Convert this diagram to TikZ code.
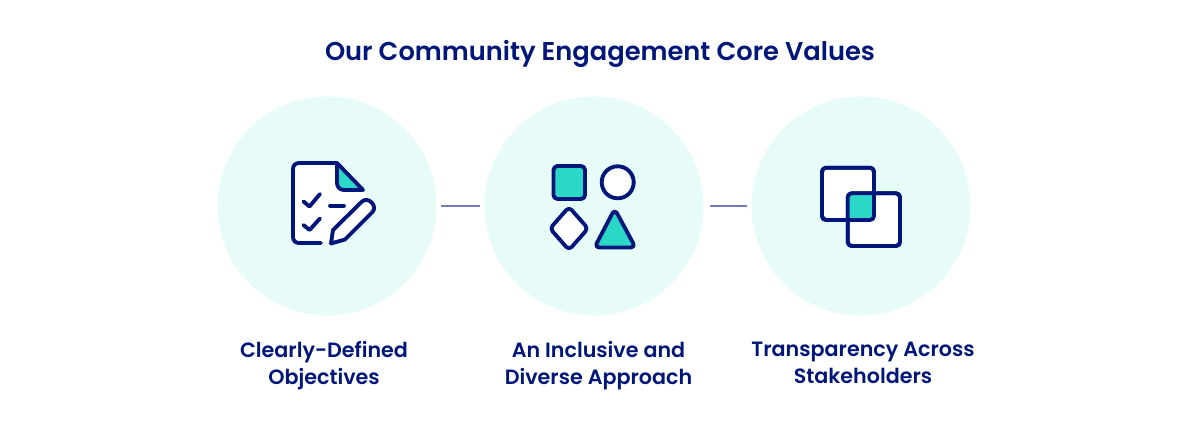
\documentclass[tikz,border=0pt]{standalone}
\usepackage{fontspec}
\setmainfont{Poppins}[BoldFont={Poppins SemiBold}]
\definecolor{navy}{HTML}{01167A}
\definecolor{teal}{HTML}{2BD8C8}
\definecolor{pale}{HTML}{E7FBF8}
\definecolor{linkc}{HTML}{6F80B8}
\tikzset{
  x=0.75pt,y=-0.75pt,
  disc/.style={circle,fill=pale,draw=none,minimum size=164.25pt,inner sep=0pt},
  link/.style={draw=linkc,line width=0.8pt,shorten <=3.4pt,shorten >=3.4pt},
  ink/.style={draw=navy,line width=2.9pt,line cap=round,line join=round},
  titletext/.style={text=navy,font=\bfseries\fontsize{19.3pt}{24pt}\selectfont,inner sep=0pt},
  labeltext/.style={text=navy,font=\bfseries\fontsize{15.5pt}{20.25pt}\selectfont,align=center,inner sep=0pt},
}
\begin{document}
\begin{tikzpicture}
\useasboundingbox (0,0) rectangle (1200,421);
\fill[white] (0,0) rectangle (1200,421);
\node[titletext] (title) at (600,53.5) {Our Community Engagement Core Values};
\node[disc] (c1) at (327,206) {};
\node[disc] (c2) at (594,206) {};
\node[disc] (c3) at (861,206) {};
\draw[link] (c1.east) -- (c2.west);
\draw[link,shorten <=5pt] (c2.east) -- (c3.west);
\node[labeltext] (l1) at (324,365.5) {Clearly-Defined\\Objectives};
\node[labeltext] (l2) at (598.5,365.5) {An Inclusive and\\Diverse Approach};
\node[labeltext] (l3) at (863,362.5) {Transparency Across\\Stakeholders};
% document icon
\fill[white] (299,163) -- (337,163) -- (363,190) -- (368,199) -- (332,243) -- (299,243) [rounded corners=5pt] -- (293,243) -- (293,163) -- cycle;
\fill[teal] (337,163) -- (363,190) -- (342,190) -- (337,185) -- cycle;
\draw[ink] (321,243) -- (299,243) .. controls (295.5,243) and (293,240.5) .. (293,237) -- (293,169) .. controls (293,165.5) and (295.5,163) .. (299,163) -- (337,163) -- (363,190) -- (344,190) .. controls (340,190) and (337,187) .. (337,183) -- (337,163);
\draw[ink] (303.5,201.5) -- (309.5,206.5) -- (320,194);
\draw[ink] (303.5,225) -- (309.5,230) -- (320,218.5);
\draw[ink] (330,205.7) -- (344,205.7);
\draw[ink,fill=white] (333,230) -- (362,201.5) .. controls (368,196) and (378,206) .. (372.5,212) -- (345,239.5) -- (331,243.5) -- cycle;
% shapes icon
\draw[ink,fill=teal,rounded corners=3pt] (553.5,166) rectangle (585,199);
\draw[ink,fill=white] (617.7,182.3) circle[radius=16];
\draw[ink,fill=white,rounded corners=3pt] (569,207) -- (588,228.5) -- (569,250) -- (550,228.5) -- cycle;
\draw[ink,fill=teal,rounded corners=3.5pt] (614.7,209) -- (635.5,247.5) -- (594.5,247.5) -- cycle;
% overlap icon
\draw[ink,fill=white,rounded corners=3pt] (822,167.7) rectangle (874,220);
\draw[ink,fill=white,rounded corners=3pt] (847.7,193.3) rectangle (900,246);
\fill[teal] (847.7,193.3) rectangle (874,220);
\draw[ink,rounded corners=3pt] (822,167.7) rectangle (874,220);
\draw[ink,rounded corners=3pt] (847.7,193.3) rectangle (900,246);
\end{tikzpicture}
\end{document}
